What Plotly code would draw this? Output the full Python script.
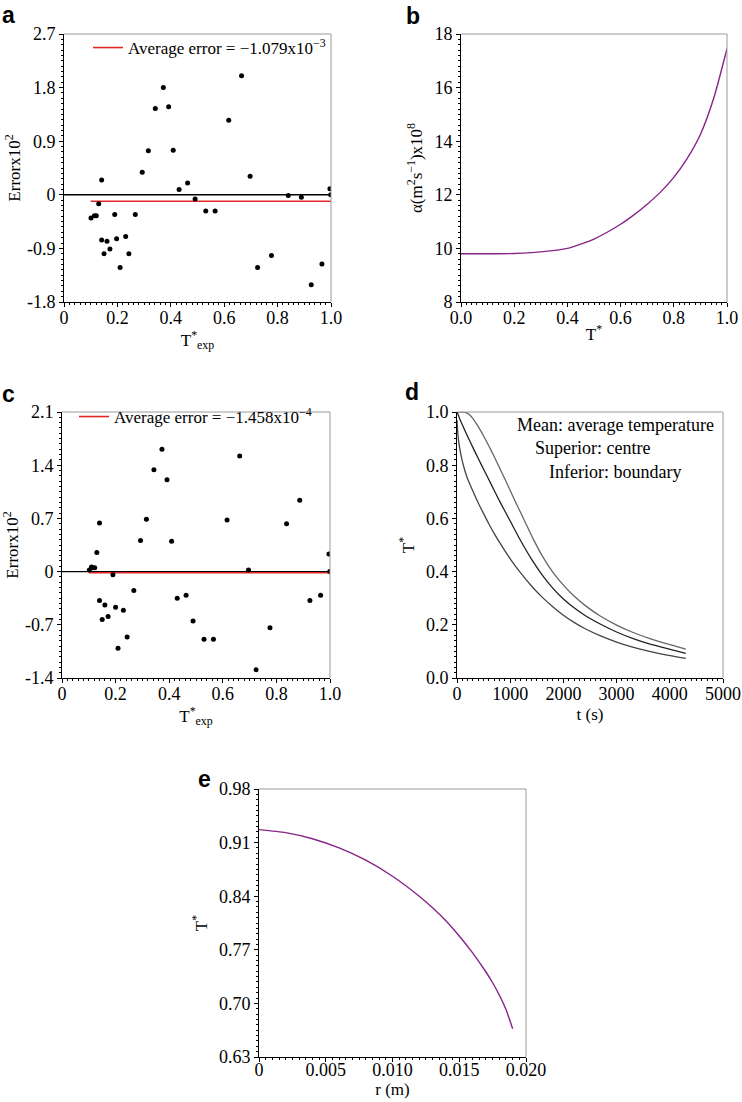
import plotly.graph_objects as go

W, H = 742, 1102

# ---------------- data ----------------
# panel a: error x10^2 vs T*exp
a_x = [0.101, 0.114, 0.121, 0.130, 0.141, 0.141, 0.150, 0.161, 0.172, 0.190, 0.197,
       0.210, 0.231, 0.243, 0.267, 0.293, 0.316, 0.342, 0.372, 0.392, 0.409, 0.431,
       0.463, 0.491, 0.531, 0.566, 0.617, 0.665, 0.697, 0.725, 0.777, 0.840, 0.889,
       0.926, 0.966, 0.996, 0.999]
a_y = [-0.39, -0.35, -0.35, -0.15, 0.25, -0.76, -0.99, -0.78, -0.91, -0.33, -0.74,
       -1.22, -0.70, -0.99, -0.33, 0.38, 0.74, 1.45, 1.80, 1.48, 0.75, 0.09,
       0.20, -0.07, -0.27, -0.27, 1.25, 2.00, 0.31, -1.22, -1.02, -0.01, -0.04,
       -1.51, -1.16, 0.10, 0.00]
a_avg = -1.079e-3 * 100
a_avg_x = [0.10, 1.0]
zero_x = [0.0, 1.0]

# panel b: alpha x10^8 vs T*
b_x = [0.0, 0.1, 0.2, 0.3, 0.4, 0.5, 0.6, 0.65, 0.7, 0.75, 0.8, 0.85, 0.9, 0.95, 1.0]
b_y = [9.80, 9.80, 9.81, 9.87, 10.0, 10.35, 10.9, 11.25, 11.65, 12.1, 12.65, 13.35, 14.25, 15.6, 17.45]

# panel c: error x10^2 vs T*exp
c_x = [0.102, 0.110, 0.115, 0.122, 0.130, 0.140, 0.140, 0.150, 0.160, 0.172, 0.190,
       0.200, 0.209, 0.229, 0.243, 0.268, 0.293, 0.315, 0.343, 0.373, 0.392, 0.409,
       0.430, 0.463, 0.489, 0.530, 0.565, 0.616, 0.663, 0.696, 0.724, 0.776, 0.838,
       0.887, 0.925, 0.965, 0.996, 0.999]
c_y = [0.02, 0.06, 0.05, 0.05, 0.25, 0.64, -0.38, -0.63, -0.44, -0.59, -0.04,
       -0.47, -1.01, -0.51, -0.86, -0.25, 0.41, 0.69, 1.34, 1.61, 1.21, 0.40,
       -0.35, -0.31, -0.65, -0.89, -0.89, 0.68, 1.52, 0.02, -1.29, -0.74, 0.63,
       0.94, -0.38, -0.31, 0.23, 0.00]
c_avg = -1.458e-4 * 100
c_avg_x = [0.10, 1.0]

# panel d: T* vs t (s)  (superior: centre, mean: average, inferior: boundary)
d_tc = [0, 100, 150, 200, 250, 300, 400, 500, 600, 700, 800, 900, 1000, 1100, 1200,
        1300, 1434, 1600, 1800, 2000, 2200, 2400, 2700, 3000, 3300, 3600, 3900, 4300]
d_centre = [1.0, 1.0, 0.999, 0.995, 0.987, 0.975, 0.945, 0.910, 0.872, 0.832, 0.790,
            0.748, 0.705, 0.662, 0.620, 0.578, 0.522, 0.460, 0.398, 0.349, 0.308, 0.274,
            0.232, 0.199, 0.172, 0.150, 0.131, 0.109]
d_tm = [0, 25, 50, 100, 200, 300, 400, 500, 600, 700, 800, 1000, 1200, 1400, 1600, 1800,
        2000, 2200, 2400, 2700, 3000, 3300, 3600, 3900, 4300]
d_mean = [1.0, 0.988, 0.975, 0.952, 0.908, 0.866, 0.825, 0.785, 0.745, 0.705, 0.665,
          0.59, 0.515, 0.447, 0.388, 0.338, 0.297, 0.264, 0.236, 0.202, 0.173, 0.149,
          0.129, 0.113, 0.093]
d_tb = [0, 10, 25, 50, 75, 100, 150, 200, 300, 400, 500, 600, 700, 800, 1000, 1200, 1400,
        1600, 1800, 2000, 2200, 2400, 2700, 3000, 3300, 3600, 3900, 4300]
d_boundary = [0.97, 0.935, 0.90, 0.865, 0.838, 0.815, 0.778, 0.748, 0.702, 0.658, 0.618,
              0.579, 0.543, 0.510, 0.448, 0.394, 0.346, 0.304, 0.268, 0.236, 0.209, 0.186,
              0.158, 0.135, 0.116, 0.101, 0.088, 0.074]

# panel e: T* vs r (m)
e_r = [0.0, 0.002, 0.004, 0.006, 0.008, 0.010, 0.012, 0.013, 0.014, 0.015, 0.016,
       0.017, 0.0175, 0.018, 0.0185, 0.019]
e_T = [0.927, 0.923, 0.915, 0.903, 0.887, 0.866, 0.840, 0.825, 0.808, 0.788, 0.766,
       0.741, 0.727, 0.711, 0.692, 0.667]

# tick labels
a_xt = [0, 0.2, 0.4, 0.6, 0.8, 1.0]; a_xl = ["0", "0.2", "0.4", "0.6", "0.8", "1.0"]
a_yt = [-1.8, -0.9, 0, 0.9, 1.8, 2.7]; a_yl = ["-1.8", "-0.9", "0", "0.9", "1.8", "2.7"]
b_xt = [0, 0.2, 0.4, 0.6, 0.8, 1.0]; b_xl = ["0.0", "0.2", "0.4", "0.6", "0.8", "1.0"]
b_yt = [8, 10, 12, 14, 16, 18]; b_yl = ["8", "10", "12", "14", "16", "18"]
c_yt = [-1.4, -0.7, 0, 0.7, 1.4, 2.1]; c_yl = ["-1.4", "-0.7", "0", "0.7", "1.4", "2.1"]
d_xt = [0, 1000, 2000, 3000, 4000, 5000]; d_xl = ["0", "1000", "2000", "3000", "4000", "5000"]
d_yt = [0, 0.2, 0.4, 0.6, 0.8, 1.0]; d_yl = ["0.0", "0.2", "0.4", "0.6", "0.8", "1.0"]
e_xt = [0, 0.005, 0.010, 0.015, 0.020]; e_xl = ["0", "0.005", "0.010", "0.015", "0.020"]
e_yt = [0.63, 0.70, 0.77, 0.84, 0.91, 0.98]; e_yl = ["0.63", "0.70", "0.77", "0.84", "0.91", "0.98"]

# ---------------- helpers ----------------
def px(x):
    return x / W

def py(y):
    return 1 - y / H

SERIF = "Liberation Serif"
SANS = "Liberation Sans"
RED = "#e32626"
PURPLE = "#862486"

fig = go.Figure()

def dots(x, y, xa, ya):
    fig.add_trace(go.Scatter(x=x, y=y, mode="markers", xaxis=xa, yaxis=ya,
                             marker=dict(color="black", size=5), showlegend=False))

def line(x, y, xa, ya, color, width=1.4, name=None, legend=None, smooth=False):
    fig.add_trace(go.Scatter(x=x, y=y, mode="lines", xaxis=xa, yaxis=ya,
                             line=dict(color=color, width=width,
                                       shape="spline" if smooth else "linear",
                                       smoothing=0.6),
                             showlegend=name is not None, name=name or "",
                             legend=legend or "legend"))

# panel a
line(zero_x, [0, 0], "x", "y", "black", 1.4)
line(a_avg_x, [a_avg, a_avg], "x", "y", RED, 1.6,
     name="Average error = \u22121.079x10<sup>\u22123</sup>", legend="legend")
dots(a_x, a_y, "x", "y")
# panel b
line(b_x, b_y, "x2", "y2", PURPLE, 1.4, smooth=True)
# panel c
line(zero_x, [0, 0], "x3", "y3", "black", 1.4)
line(c_avg_x, [c_avg, c_avg], "x3", "y3", RED, 1.6,
     name="Average error = \u22121.458x10<sup>\u22124</sup>", legend="legend2")
dots(c_x, c_y, "x3", "y3")
# panel d
line(d_tc, d_centre, "x4", "y4", "#666666", 1.3, smooth=True)
line(d_tm, d_mean, "x4", "y4", "#222222", 1.3, smooth=True)
line(d_tb, d_boundary, "x4", "y4", "#444444", 1.3, smooth=True)
# panel e
line(e_r, e_T, "x5", "y5", PURPLE, 1.4, smooth=True)

tickfont = dict(family=SERIF, size=18, color="black")
titlefont = dict(family=SERIF, size=17, color="black")

def axis(dom, anchor, rng, tv, tt, minor_dt, title, standoff, lab_off=0):
    d = dict(domain=dom, anchor=anchor, range=rng, tickmode="array", tickvals=tv,
             ticktext=tt, ticks="outside", ticklen=4, tickwidth=1, tickcolor="black",
             showline=True, linecolor="black", linewidth=1, mirror=False,
             showgrid=False, zeroline=False, tickfont=tickfont, automargin=False,
             minor=dict(ticks="outside", ticklen=2, tickcolor="black", tick0=rng[0],
                        dtick=minor_dt, showgrid=False),
             title=dict(text=title, font=titlefont, standoff=standoff))
    if lab_off:
        d["ticklabelstandoff"] = lab_off
    return d

XA = [64, 331]; XB = [461, 727]; XC = [62, 330]; XD = [457, 723]; XE = [259, 526]
YAB = [34, 302]; YCD = [412, 678]; YE = [789, 1057]

def xd(p):
    return [px(p[0]), px(p[1])]

def yd(p):
    return [py(p[1]), py(p[0])]

T_EXP = "T<sup>*</sup><sub>exp</sub>"
fig.update_layout(
    template="none",
    xaxis=axis(xd(XA), "y", [0, 1], a_xt, a_xl, 0.02, T_EXP, 0, -5),
    yaxis=axis(yd(YAB), "x", [-1.8, 2.7], a_yt, a_yl, 0.09, "Errorx10<sup>2</sup>", 1),
    xaxis2=axis(xd(XB), "y2", [0, 1], b_xt, b_xl, 0.02, "T<sup>*</sup>", 1, -5),
    yaxis2=axis(yd(YAB), "x2", [8, 18], b_yt, b_yl, 0.2,
                "\u03b1(m<sup>2</sup>s<sup>\u22121</sup>)x10<sup>8</sup>", 7),
    xaxis3=axis(xd(XC), "y3", [0, 1], a_xt, a_xl, 0.02, T_EXP, 2, -5),
    yaxis3=axis(yd(YCD), "x3", [-1.4, 2.1], c_yt, c_yl, 0.07, "Errorx10<sup>2</sup>", 1),
    xaxis4=axis(xd(XD), "y4", [0, 5000], d_xt, d_xl, 100, "t (s)", 5, -5),
    yaxis4=axis(yd(YCD), "x4", [0, 1], d_yt, d_yl, 0.02, "T<sup>*</sup>", 6),
    xaxis5=axis(xd(XE), "y5", [0, 0.02], e_xt, e_xl, 0.0005, "r (m)", 4, -8),
    yaxis5=axis(yd(YE), "x5", [0.63, 0.98], e_yt, e_yl, 0.007, "T<sup>*</sup>", 6),
    width=W, height=H, margin=dict(l=0, r=0, t=0, b=0, pad=0), autosize=False,
    paper_bgcolor="white", plot_bgcolor="white",
    font=dict(family=SERIF, size=17, color="black"),
    legend=dict(x=px(88), y=py(30), xanchor="left", yanchor="top", itemwidth=30,
                font=dict(family=SERIF, size=17, color="black"),
                bgcolor="rgba(0,0,0,0)", borderwidth=0),
    legend2=dict(x=px(74), y=py(399), xanchor="left", yanchor="top", itemwidth=30,
                 font=dict(family=SERIF, size=17, color="black"),
                 bgcolor="rgba(0,0,0,0)", borderwidth=0),
)

# gray top/right frame lines
shapes = []
for i in ["", "2", "3", "4", "5"]:
    xr = "x%s domain" % i
    yr = "y%s domain" % i
    shapes.append(dict(type="line", xref=xr, yref=yr, x0=0, x1=1, y0=1, y1=1,
                       line=dict(color="#9a9a9a", width=1)))
    shapes.append(dict(type="line", xref=xr, yref=yr, x0=1, x1=1, y0=0, y1=1,
                       line=dict(color="#9a9a9a", width=1)))
fig.update_layout(shapes=shapes)

ann = []
for lab, x, y in [("a", 8, 15), ("b", 413, 16), ("c", 8, 394), ("d", 412, 392), ("e", 204, 779)]:
    ann.append(dict(text="<b>%s</b>" % lab, x=px(x), y=py(y), xref="paper", yref="paper",
                    showarrow=False, font=dict(family=SANS, size=23, color="black"),
                    xanchor="center", yanchor="middle"))
for txt, x, y in [("Mean: average temperature", 515, 425),
                  ("Superior: centre", 533, 448),
                  ("Inferior: boundary", 547, 472)]:
    ann.append(dict(text=txt, x=px(x), y=py(y), xref="paper", yref="paper",
                    showarrow=False, font=dict(family=SERIF, size=18, color="black"),
                    xanchor="left", yanchor="middle"))
fig.update_layout(annotations=ann)

fig.write_html("out.html", config={"displayModeBar": False},
               post_script="document.body.style.margin='0px';")
